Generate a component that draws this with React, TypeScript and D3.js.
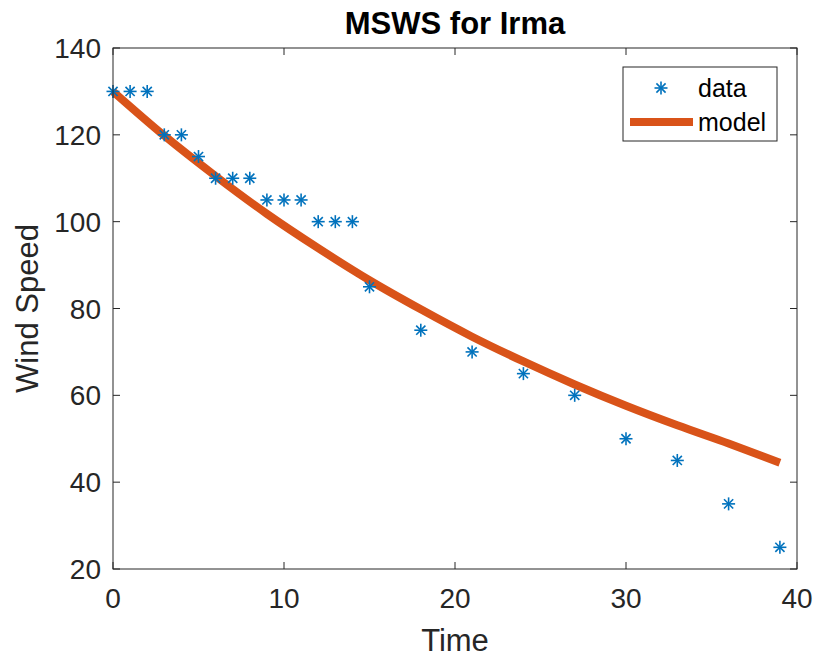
import React, { useRef, useEffect } from "react";
import * as d3 from "d3";

// observations
const dataTime = [0, 1, 2, 3, 4, 5, 6, 7, 8, 9, 10, 11, 12, 13, 14, 15, 18, 21, 24, 27, 30, 33, 36, 39];
const dataSpeed = [130, 130, 130, 120, 120, 115, 110, 110, 110, 105, 105, 105, 100, 100, 100, 85, 75, 70, 65, 60, 50, 45, 35, 25];

// fitted model
const modelTime = [0, 3, 6, 9, 12, 15, 18, 21, 24, 27, 30, 33, 36, 39];
const modelSpeed = [130, 119.8, 110.5, 101.8, 93.9, 86.5, 79.8, 73.5, 67.8, 62.5, 57.6, 53.1, 48.9, 44.5];

const xTicks = [0, 10, 20, 30, 40];
const yTicks = [20, 40, 60, 80, 100, 120, 140];

const W = 814;
const H = 658;
const FONT = "'Liberation Sans', Arial, Helvetica, sans-serif";
const AX = "#262626";
const BLUE = "#0072BD";
const ORANGE = "#D95319";

const App = () => {
  const ref = useRef<SVGSVGElement>(null);

  useEffect(() => {
    const svg = d3.select(ref.current);
    svg.selectAll("*").remove();

    const margin = { top: 48, right: 17, bottom: 89, left: 113 };
    const width = W - margin.left - margin.right;
    const height = H - margin.top - margin.bottom;

    const x = d3.scaleLinear().domain([0, 40]).range([0, width]);
    const y = d3.scaleLinear().domain([20, 140]).range([height, 0]);

    const g = svg.append("g").attr("transform", `translate(${margin.left},${margin.top})`);

    // model line
    const line = d3.line<number>()
      .x((d, i) => x(modelTime[i]))
      .y((d) => y(d))
      .curve(d3.curveMonotoneX);
    g.append("path")
      .datum(modelSpeed)
      .attr("d", line)
      .attr("fill", "none")
      .attr("stroke", ORANGE)
      .attr("stroke-width", 8);

    // asterisk markers
    const star = (sel: any, r: number) => {
      const a = r * Math.SQRT1_2;
      sel.append("line").attr("x1", -r).attr("x2", r).attr("y1", 0).attr("y2", 0);
      sel.append("line").attr("x1", 0).attr("x2", 0).attr("y1", -r).attr("y2", r);
      sel.append("line").attr("x1", -a).attr("x2", a).attr("y1", -a).attr("y2", a);
      sel.append("line").attr("x1", -a).attr("x2", a).attr("y1", a).attr("y2", -a);
    };
    dataSpeed.forEach((v, i) => {
      const m = g.append("g")
        .attr("transform", `translate(${x(dataTime[i])},${y(v)})`)
        .attr("stroke", BLUE)
        .attr("stroke-width", 1.6);
      star(m, 6.5);
    });

    // axes box
    g.append("rect")
      .attr("width", width).attr("height", height)
      .attr("fill", "none").attr("stroke", AX).attr("stroke-width", 1);

    const tl = 7;
    xTicks.forEach((t) => {
      g.append("line").attr("x1", x(t)).attr("x2", x(t)).attr("y1", height).attr("y2", height - tl).attr("stroke", AX);
      g.append("line").attr("x1", x(t)).attr("x2", x(t)).attr("y1", 0).attr("y2", tl).attr("stroke", AX);
      g.append("text").attr("x", x(t)).attr("y", height + 39)
        .attr("text-anchor", "middle").attr("fill", AX)
        .style("font-family", FONT).style("font-size", "28px").text(t);
    });
    yTicks.forEach((t) => {
      g.append("line").attr("x1", 0).attr("x2", tl).attr("y1", y(t)).attr("y2", y(t)).attr("stroke", AX);
      g.append("line").attr("x1", width).attr("x2", width - tl).attr("y1", y(t)).attr("y2", y(t)).attr("stroke", AX);
      g.append("text").attr("x", -12).attr("y", y(t)).attr("dy", "0.36em")
        .attr("text-anchor", "end").attr("fill", AX)
        .style("font-family", FONT).style("font-size", "28px").text(t);
    });

    // labels
    svg.append("text").attr("x", margin.left + width / 2).attr("y", 34)
      .attr("text-anchor", "middle").attr("fill", "#000")
      .style("font-family", FONT).style("font-size", "31px").style("font-weight", "bold")
      .text("MSWS for Irma");
    svg.append("text").attr("x", margin.left + width / 2).attr("y", 651)
      .attr("text-anchor", "middle").attr("fill", AX)
      .style("font-family", FONT).style("font-size", "31px").text("Time");
    svg.append("text")
      .attr("transform", `translate(38,${margin.top + height / 2}) rotate(-90)`)
      .attr("text-anchor", "middle").attr("fill", AX)
      .style("font-family", FONT).style("font-size", "31px").text("Wind Speed");

    // legend
    const lg = svg.append("g").attr("transform", "translate(623,67)");
    lg.append("rect").attr("width", 154).attr("height", 74)
      .attr("fill", "#fff").attr("stroke", AX).attr("stroke-width", 1);
    const ls = lg.append("g").attr("transform", "translate(38,21)")
      .attr("stroke", BLUE).attr("stroke-width", 1.6);
    star(ls, 6.5);
    lg.append("line").attr("x1", 7).attr("x2", 70).attr("y1", 55).attr("y2", 55)
      .attr("stroke", ORANGE).attr("stroke-width", 8);
    lg.append("text").attr("x", 75).attr("y", 30).attr("fill", "#000")
      .style("font-family", FONT).style("font-size", "25px").text("data");
    lg.append("text").attr("x", 75).attr("y", 64).attr("fill", "#000")
      .style("font-family", FONT).style("font-size", "25px").text("model");
  }, []);

  return (
    <svg ref={ref} width={W} height={H} style={{ display: "block", position: "absolute", left: 0, top: 0 }} />
  );
};

export default App;
